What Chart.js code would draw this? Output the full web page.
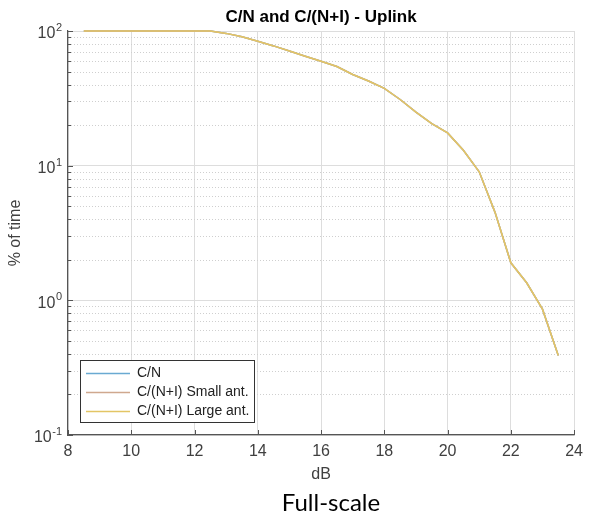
<!DOCTYPE html>
<html>
<head>
<meta charset="utf-8">
<script src="https://cdn.jsdelivr.net/npm/chart.js@4/dist/chart.umd.min.js"></script>
<style>
  html, body { margin: 0; padding: 0; background: #fff; }
  #wrap { width: 590px; height: 520px; }
</style>
</head>
<body>
<div id="wrap"><canvas id="c" width="590" height="520"></canvas></div>
<script>
// ---- data ----
const chartTitle = "C/N and C/(N+I) - Uplink";
const xAxisLabel = "dB";
const yAxisLabel = "% of time";
const caption = "Full-scale";
const seriesNames = ["C/N", "C/(N+I) Small ant.", "C/(N+I) Large ant."];
const seriesColors = ["#6aaad2", "#cfa88e", "#e3c565"];

const dB = [8.5, 9, 9.5, 10, 10.5, 11, 11.5, 12, 12.5, 13, 13.5, 14, 14.5, 15, 15.5, 16,
            16.5, 17, 17.5, 18, 18.5, 19, 19.5, 20, 20.5, 21, 21.5, 22, 22.5, 23, 23.5];
const cnValues =       [100, 100, 100, 100, 100, 100, 100, 100, 100, 96, 90.5, 84, 77.5, 71, 65, 59.6,
                        54.5, 47.5, 42.5, 37.5, 31, 25, 20.5, 17.5, 13, 9.0, 4.5, 1.9, 1.35, 0.86, 0.39];
const smallAntValues = [100, 100, 100, 100, 100, 100, 100, 100, 100, 96, 90.5, 84, 77.5, 71, 65, 59.6,
                        54.5, 47.5, 42.5, 37.5, 31, 25, 20.5, 17.5, 13, 9.0, 4.5, 1.9, 1.35, 0.86, 0.39];
const largeAntValues = [100, 100, 100, 100, 100, 100, 100, 100, 100, 96, 90.5, 84, 77.5, 71, 65, 59.6,
                        54.5, 47.5, 42.5, 37.5, 31, 25, 20.5, 17.5, 13, 9.0, 4.5, 1.9, 1.35, 0.86, 0.39];
const xTicks = [8, 10, 12, 14, 16, 18, 20, 22, 24];
const yDecadeExponents = [2, 1, 0, -1];

const allSeries = [cnValues, smallAntValues, largeAntValues];

function isDecade(v) {
  const l = Math.log10(v);
  return Math.abs(l - Math.round(l)) < 1e-9;
}

const FONT = "'Liberation Sans', Arial, Helvetica, sans-serif";
const TXT = "#404040";

const decorPlugin = {
  id: "decor",
  beforeDatasetsDraw(chart) {
    const ctx = chart.ctx, ca = chart.chartArea, y = chart.scales.y;
    ctx.save();
    ctx.strokeStyle = "#cfcfcf";
    ctx.lineWidth = 1;
    ctx.setLineDash([1, 2]);
    for (let e = -1; e < 2; e++) {
      for (let m = 2; m <= 9; m++) {
        const py = Math.round(y.getPixelForValue(m * Math.pow(10, e))) + 0.5;
        ctx.beginPath(); ctx.moveTo(ca.left, py); ctx.lineTo(ca.right, py); ctx.stroke();
      }
    }
    ctx.restore();
  },
  afterDraw(chart) {
    const ctx = chart.ctx, ca = chart.chartArea, x = chart.scales.x, y = chart.scales.y;
    ctx.save();
    // inward ticks
    ctx.strokeStyle = "#555";
    ctx.lineWidth = 1;
    for (let e = -1; e <= 2; e++) {
      for (let m = 1; m <= 9; m++) {
        const v = m * Math.pow(10, e);
        if (v > 100.0001) break;
        const py = Math.round(y.getPixelForValue(v)) + 0.5;
        const len = m === 1 ? 5 : 3;
        ctx.beginPath(); ctx.moveTo(ca.left, py); ctx.lineTo(ca.left + len, py); ctx.stroke();
      }
    }
    xTicks.forEach(t => {
      const px = Math.round(x.getPixelForValue(t)) + 0.5;
      ctx.beginPath(); ctx.moveTo(px, ca.bottom); ctx.lineTo(px, ca.bottom - 5); ctx.stroke();
    });
    // y tick labels 10^n
    ctx.fillStyle = TXT;
    yDecadeExponents.forEach(e => {
      const py = y.getPixelForValue(Math.pow(10, e));
      const expStr = e < 0 ? "-" + Math.abs(e) : String(e);
      ctx.font = "11px " + FONT;
      const ew = ctx.measureText(expStr).width;
      const right = ca.left - 6;
      ctx.textAlign = "right"; ctx.textBaseline = "middle";
      ctx.fillText(expStr, right, py - 3);
      ctx.font = "16px " + FONT;
      ctx.fillText("10", right - ew - 0.5, py + 3);
    });
    // y axis title
    ctx.save();
    ctx.translate(16, (ca.top + ca.bottom) / 2);
    ctx.rotate(-Math.PI / 2);
    ctx.font = "16px " + FONT;
    ctx.textAlign = "center"; ctx.textBaseline = "middle";
    ctx.fillText(yAxisLabel, 0, 0);
    ctx.restore();
    // x axis title
    ctx.font = "16px " + FONT;
    ctx.textAlign = "center"; ctx.textBaseline = "middle";
    ctx.fillText(xAxisLabel, (ca.left + ca.right) / 2, 475);
    // chart title
    ctx.fillStyle = "#000";
    ctx.font = "bold 17px " + FONT;
    ctx.fillText(chartTitle, (ca.left + ca.right) / 2, 17);
    // caption
    ctx.font = "24px Lato, 'Open Sans', sans-serif";
    ctx.fillText(caption, 331, 503);
    // legend box
    const lx = 80, ly = 360, lw = 174, lh = 62;
    ctx.fillStyle = "#fff";
    ctx.fillRect(lx, ly, lw, lh);
    ctx.strokeStyle = "#333";
    ctx.lineWidth = 1;
    ctx.strokeRect(lx + 0.5, ly + 0.5, lw, lh);
    ctx.font = "14px " + FONT;
    ctx.textAlign = "left"; ctx.textBaseline = "middle";
    chart.data.datasets.forEach((ds, i) => {
      const yy = ly + 13.5 + i * 19;
      ctx.strokeStyle = ds.borderColor;
      ctx.lineWidth = 1.3;
      ctx.beginPath(); ctx.moveTo(lx + 6, yy); ctx.lineTo(lx + 50, yy); ctx.stroke();
      ctx.fillStyle = "#222";
      ctx.fillText(ds.label, lx + 57, yy);
    });
    ctx.restore();
  }
};

const datasets = seriesNames.map((name, i) => ({
  label: name,
  data: dB.map((d, k) => ({ x: d, y: allSeries[i][k] })),
  borderColor: seriesColors[i],
  backgroundColor: seriesColors[i],
  borderWidth: 1.5,
  pointRadius: 0,
  tension: 0,
  fill: false,
  clip: 3,
  order: 2 - i
}));

new Chart(document.getElementById("c"), {
  type: "line",
  data: { datasets },
  plugins: [decorPlugin],
  options: {
    responsive: false,
    animation: false,
    devicePixelRatio: 1,
    layout: { padding: { top: 31, right: 11, left: 0, bottom: 0 } },
    plugins: { legend: { display: false }, tooltip: { enabled: false }, title: { display: false } },
    scales: {
      x: {
        type: "linear", min: 8, max: 24,
        afterBuildTicks: s => { s.ticks = xTicks.map(v => ({ value: v })); },
        ticks: { font: { size: 16, family: FONT }, color: TXT, padding: 7, maxRotation: 0 },
        grid: { color: "#dddddd", drawTicks: false, lineWidth: 1 },
        border: { display: true, color: "#555", width: 1.2 },
        afterFit: s => { s.height = 85; }
      },
      y: {
        type: "logarithmic", min: 0.1, max: 100,
        ticks: { display: false },
        grid: {
          drawTicks: false,
          color: c => (c.tick && isDecade(c.tick.value)) ? "#dddddd" : "rgba(0,0,0,0)"
        },
        border: { display: true, color: "#555", width: 1.2 },
        afterFit: s => { s.width = 68; }
      }
    }
  }
});
</script>
</body>
</html>
